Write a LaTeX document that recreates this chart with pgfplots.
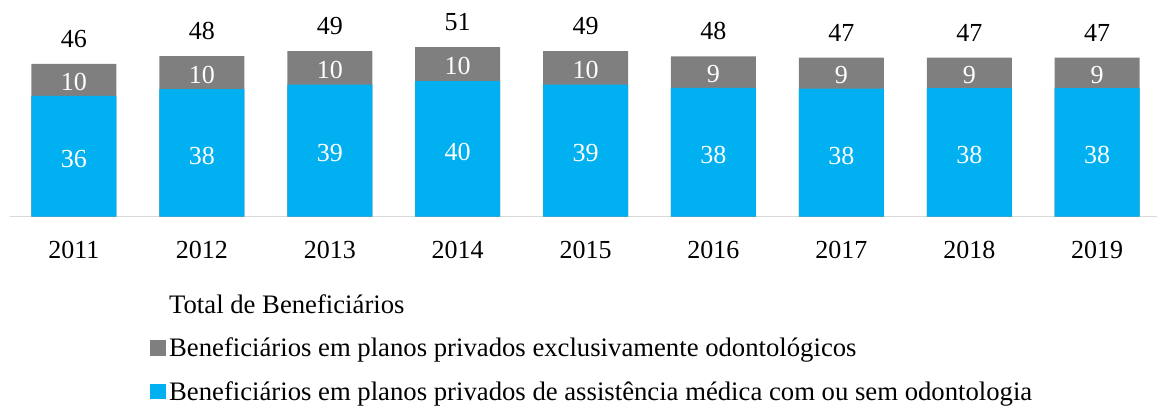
\documentclass[border=0pt]{standalone}
\usepackage{fontspec}
\setmainfont{Liberation Serif}
\usepackage{pgfplots}
\usepackage{pgfplotstable}
\pgfplotsset{compat=1.18}
\definecolor{medblue}{HTML}{00B0F0}
\definecolor{odgrey}{HTML}{7F7F7F}
\definecolor{axgrey}{HTML}{D9D9D9}
\pgfplotstableread{
x blue grey total
0 36.0 9.6 45.6
1 38.0 9.9 47.9
2 39.4 10.0 49.4
3 40.4 10.2 50.6
4 39.4 10.0 49.4
5 38.4 9.4 47.8
6 38.2 9.2 47.4
7 38.3 9.1 47.4
8 38.3 9.1 47.4
}\data
\newcommand{\bigf}{\fontsize{26}{30}\selectfont}
\newcommand{\legf}{\fontsize{26.7}{31}\selectfont}
\begin{document}
\begin{tikzpicture}
\useasboundingbox (-10pt,-188.5pt) rectangle (1147pt,216.5pt);
\begin{axis}[
  at={(0pt,0pt)}, anchor=south west,
  scale only axis, width=1147pt, height=216.5pt,
  xmin=-0.5, xmax=8.468, ymin=0, ymax=64.63,
  axis x line*=bottom, axis y line=none,
  x axis line style={draw=axgrey, line width=1.5pt},
  xtick={0,...,8}, xticklabels={2011,2012,2013,2014,2015,2016,2017,2018,2019},
  major tick length=0pt,
  xticklabel style={font=\bigf, yshift=-21pt},
  ytick=\empty,
  /pgf/number format/assume math mode=true,
  clip=false,
  legend style={at={(axis description cs:0.1194,-0.3395)}, anchor=north west,
    draw=none, fill=none, font=\legf, row sep=19.5pt,
    nodes={inner xsep=3pt}},
  legend cell align=left,
]
\addplot[draw=none, mark=none, nodes near coords={\pgfmathprintnumber[fixed,precision=0]{\pgfplotspointmeta}},
  point meta=explicit,
  every node near coord/.style={anchor=center, yshift=25pt, font=\bigf, text=black},
  legend image code/.code={\path (0pt,0pt) rectangle (16pt,1pt);}]
  table[x=x, y=total, meta=total]{\data};
\addlegendentry{Total de Beneficiários}
\addplot[ybar, bar width=85pt, bar shift=0pt, fill=odgrey, draw=none,
  legend image code/.code={\fill[odgrey] (0pt,-7.5pt) rectangle (16pt,8pt);}]
  table[x=x, y=total]{\data};
\addlegendentry{Beneficiários em planos privados exclusivamente odontológicos}
\addplot[ybar, bar width=85pt, bar shift=0pt, fill=medblue, draw=none,
  legend image code/.code={\fill[medblue] (0pt,-7.5pt) rectangle (16pt,8pt);}]
  table[x=x, y=blue]{\data};
\addlegendentry{Beneficiários em planos privados de assistência médica com ou sem odontologia}
\addplot[draw=none, mark=none, forget plot, nodes near coords={\pgfmathprintnumber[fixed,precision=0]{\pgfplotspointmeta}},
  point meta=explicit,
  every node near coord/.style={anchor=center, yshift=-2pt, font=\bigf, text=white}]
  table[x=x, y expr=\thisrow{blue}+\thisrow{grey}/2, meta=grey]{\data};
\addplot[draw=none, mark=none, forget plot, nodes near coords={\pgfmathprintnumber[fixed,precision=0]{\pgfplotspointmeta}},
  point meta=explicit,
  every node near coord/.style={anchor=center, yshift=-3pt, font=\bigf, text=white}]
  table[x=x, y expr=\thisrow{blue}/2, meta=blue]{\data};
\end{axis}
\end{tikzpicture}
\end{document}
